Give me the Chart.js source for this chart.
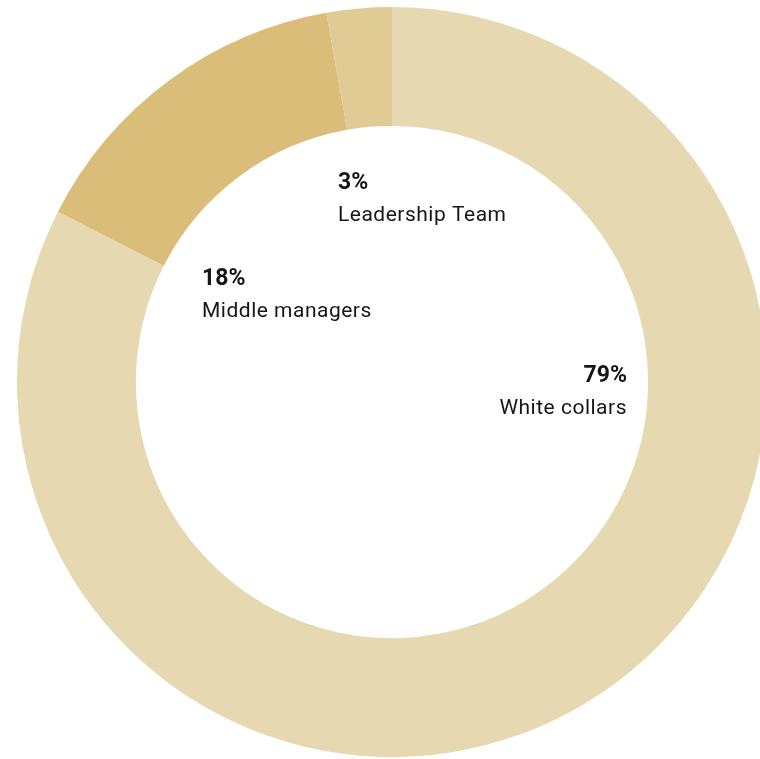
<!DOCTYPE html>
<html>
<head>
<meta charset="utf-8">
<script src="https://cdn.jsdelivr.net/npm/chart.js@4"></script>
<style>
  html, body { margin: 0; padding: 0; background: #fff; overflow: hidden; width: 760px; height: 759px; }
  #wrap { position: absolute; left: 0; top: 0; width: 784px; height: 764px; }
</style>
</head>
<body>
<div id="wrap"><canvas id="donut"></canvas></div>
<script>
// categories, clockwise from 12 o'clock
const categorias = ['White collars', 'Middle managers', 'Leadership Team'];
// printed shares
const rotulos = ['79%', '18%', '3%'];
// arc sizes as the segments are actually drawn in the picture (%)
const fatias = [82.5, 14.7, 2.8];
const cores = ['#e6d8b0', '#d9bd79', '#e1cb95'];

// label anchor offsets from donut centre: [dx, baseline dy, align]
const posRotulos = [
    [235, 0, 'right'],
    [-190, -97, 'left'],
    [-54, -193, 'left']
];

const rotulosPlugin = {
    id: 'rotulos',
    afterDraw(chart) {
        const ctx = chart.ctx;
        const arc = chart.getDatasetMeta(0).data[0];
        const cx = arc.x, cy = arc.y;
        ctx.save();
        ctx.fillStyle = '#161616';
        posRotulos.forEach((p, i) => {
            ctx.textAlign = p[2];
            ctx.letterSpacing = '0px';
            ctx.font = 'bold 23px Roboto';
            ctx.fillText(rotulos[i], cx + p[0], cy + p[1]);
            ctx.letterSpacing = '0.5px';
            ctx.font = '21px Roboto';
            ctx.fillText(categorias[i], cx + p[0], cy + p[1] + 32);
        });
        ctx.restore();
    }
};

new Chart(document.getElementById('donut').getContext('2d'), {
    type: 'doughnut',
    data: {
        labels: categorias,
        datasets: [{ data: fatias, backgroundColor: cores, borderWidth: 0, hoverOffset: 0 }]
    },
    options: {
        responsive: true,
        maintainAspectRatio: false,
        animation: false,
        cutout: '68.3%',
        layout: { padding: { left: 17, right: 17, top: 7, bottom: 7 } },
        plugins: { legend: { display: false }, tooltip: { enabled: false } }
    },
    plugins: [rotulosPlugin]
});
</script>
</body>
</html>
